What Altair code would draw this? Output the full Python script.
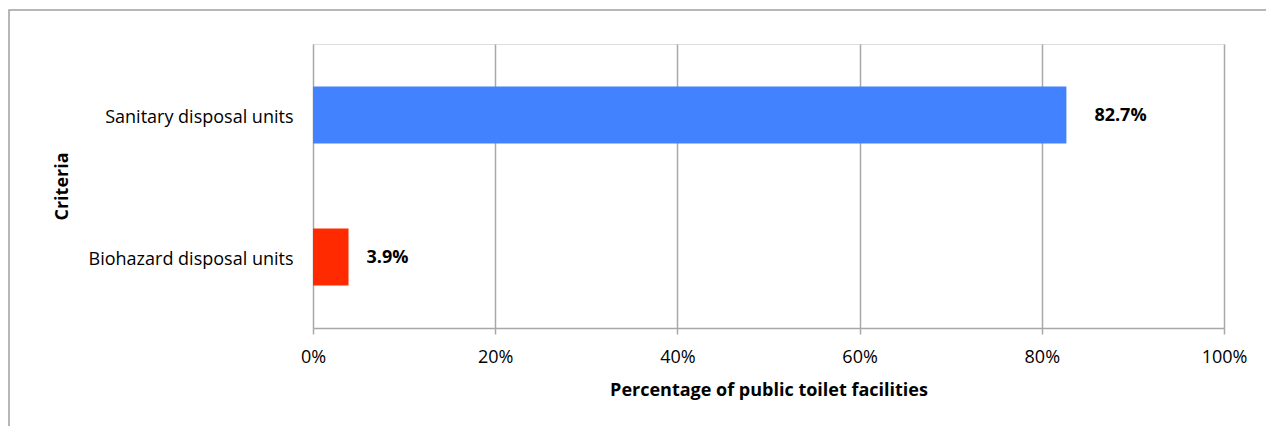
import altair as alt
import pandas as pd

categories = ["Sanitary disposal units", "Biohazard disposal units"]
values = [82.7, 3.9]
labels = ["82.7%", "3.9%"]
colors = ["#4282FE", "#FF2A00"]

df = pd.DataFrame({"cat": categories, "val": values, "lab": labels})

W, H = 911, 284
FONT = "Open Sans"
FS = 18

x_scale = alt.Scale(domain=[0, 100], nice=False)
y_scale = alt.Scale(domain=categories, paddingInner=0.6, paddingOuter=0.3)

frame = alt.Chart(df).mark_rect(
    fill=None, stroke="#a0a0a0", strokeWidth=1.5
).encode(
    x=alt.value(-304), x2=alt.value(1200),
    y=alt.value(-34), y2=alt.value(600)
).transform_filter(alt.datum.cat == categories[0])

bars = alt.Chart(df).mark_bar().encode(
    x=alt.X("val:Q", scale=x_scale,
            axis=alt.Axis(values=[0, 20, 40, 60, 80, 100],
                          labelExpr="datum.value + '%'",
                          title="Percentage of public toilet facilities",
                          grid=True, gridColor="#a8a8a8", gridWidth=1.5,
                          domainColor="#a8a8a8", domainWidth=1.5,
                          tickColor="#a8a8a8", tickWidth=1.5, tickSize=6,
                          labelFont=FONT, labelFontSize=FS, labelColor="#000",
                          labelPadding=14, labelFlush=False,
                          titleFont=FONT, titleFontSize=FS, titleFontWeight="bold",
                          titleColor="#000", titlePadding=15)),
    y=alt.Y("cat:N", scale=y_scale, sort=categories,
            axis=alt.Axis(title="Criteria", ticks=False, domain=False,
                          labelFont=FONT, labelFontSize=FS, labelColor="#000",
                          labelPadding=20, labelLimit=400, labelOffset=3,
                          titleFont=FONT, titleFontSize=FS, titleFontWeight="bold",
                          titleColor="#000", titlePadding=42)),
    color=alt.Color("cat:N", scale=alt.Scale(domain=categories, range=colors), legend=None),
)

def label_layer(i, dx):
    return alt.Chart(df).transform_filter(alt.datum.cat == categories[i]).mark_text(
        align="left", baseline="middle", dx=dx, dy=1, font=FONT, fontSize=FS,
        fontWeight="bold", color="#000"
    ).encode(
        x=alt.X("val:Q", scale=x_scale),
        y=alt.Y("cat:N", scale=y_scale, sort=categories),
        text="lab:N",
    )

chart = alt.layer(frame, bars, label_layer(0, 28), label_layer(1, 18)).properties(
    width=W, height=H,
    autosize=alt.AutoSizeParams(type="none"),
    padding={"left": 305, "top": 36, "right": 42, "bottom": 98},
).configure_view(stroke=None).configure(background="white")

chart.save("out.html", embed_options={"renderer": "svg", "actions": False})
